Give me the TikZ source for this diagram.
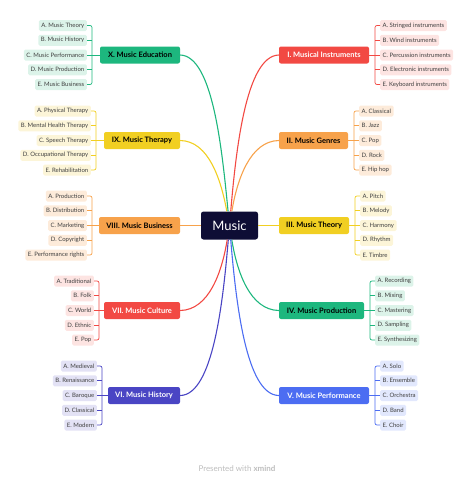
\documentclass[tikz,border=0pt]{standalone}
\usepackage{fontspec}
\setmainfont{Lato}
\usepackage{tikz}

\definecolor{cnavy}{HTML}{0E0D35}
\definecolor{cred}{HTML}{F24943}
\definecolor{corange}{HTML}{F7A24B}
\definecolor{cyellow}{HTML}{F1CF22}
\definecolor{cgreen}{HTML}{1DB77E}
\definecolor{cblue}{HTML}{4C6DF2}
\definecolor{cindigo}{HTML}{4A45C4}
\definecolor{lred}{HTML}{FDE4E2}
\definecolor{lorange}{HTML}{FDEBDA}
\definecolor{lyellow}{HTML}{FCF5D8}
\definecolor{lgreen}{HTML}{DCF3E9}
\definecolor{lblue}{HTML}{E2E8FD}
\definecolor{lindigo}{HTML}{E3E2F5}
\definecolor{cleaf}{HTML}{404040}
\definecolor{cfoot}{HTML}{BDBDBD}

\tikzset{
  hub/.style={rectangle, rounded corners=2.5pt, fill=cnavy, text=white,
    minimum width=57pt, minimum height=28pt, font=\fontsize{13}{13}\selectfont},
  topic/.style={rectangle, rounded corners=2pt, fill=#1, minimum height=17pt,
    inner xsep=0pt, font=\fontsize{7.5}{7.5}\selectfont\bfseries},
  leaf/.style={rectangle, rounded corners=1.5pt, fill=#1, minimum height=11pt,
    inner xsep=2.5pt, inner ysep=0pt, text=cleaf, font=\fontsize{6}{6}\selectfont},
  branch/.style={draw=#1, line width=1.1pt},
  bracket/.style={draw=#1, line width=0.7pt, rounded corners=2pt},
}

\begin{document}
\begin{tikzpicture}[x=1pt, y=-1pt]
\useasboundingbox (0,0) rectangle (474,480);

\node (music) at (229.5,225.5) [hub] {Music};

% right side
\node (inst) at (324,55) [topic=cred, minimum width=90pt, text=white] {I. Musical Instruments};
\node (genre) at (313.5,140.5) [topic=corange, minimum width=69pt] {II. Music Genres};
\node (theory) at (314,225.5) [topic=cyellow, minimum width=70pt] {III. Music Theory};
\node (prod) at (321.5,310.5) [topic=cgreen, minimum width=85pt] {IV. Music Production};
\node (perf) at (324,395.5) [topic=cblue, minimum width=90pt, text=white] {V. Music Performance};

% left side
\node (hist) at (144,395.5) [topic=cindigo, minimum width=72pt, text=white] {VI. Music History};
\node (cult) at (142,310.5) [topic=cred, minimum width=76pt, text=white] {VII. Music Culture};
\node (bus) at (139.5,225.5) [topic=corange, minimum width=81pt] {VIII. Music Business};
\node (ther) at (142,140.5) [topic=cyellow, minimum width=76pt] {IX. Music Therapy};
\node (edu) at (140,55) [topic=cgreen, minimum width=80pt] {X. Music Education};

\draw[branch=cred] (music) .. controls (236,150) and (246,56) .. (inst.west);
\draw[branch=corange] (music) .. controls (237,180) and (250,141) .. (genre.west);
\draw[branch=cyellow] (music) -- (theory);
\draw[branch=cgreen] (music) .. controls (237,272) and (250,310) .. (prod.west);
\draw[branch=cblue] (music) .. controls (236,302) and (246,395) .. (perf.west);
\draw[branch=cindigo] (music) .. controls (223,302) and (213,395) .. (hist.east);
\draw[branch=cred] (music) .. controls (222,272) and (209,310) .. (cult.east);
\draw[branch=corange] (music) -- (bus);
\draw[branch=cyellow] (music) .. controls (221,180) and (209,141) .. (ther.east);
\draw[branch=cgreen] (music) .. controls (222,150) and (213,56) .. (edu.east);

% I
\node (inst1) at (380,25.5) [leaf=lred, anchor=west] {A. Stringed instruments};
\node (inst2) at (380,40.25) [leaf=lred, anchor=west] {B. Wind instruments};
\node (inst3) at (380,55) [leaf=lred, anchor=west] {C. Percussion instruments};
\node (inst4) at (380,69.75) [leaf=lred, anchor=west] {D. Electronic instruments};
\node (inst5) at (380,84.5) [leaf=lred, anchor=west] {E. Keyboard instruments};
\draw[bracket=cred] (inst1.west) -- ++(-5,0) |- (inst5.west);
\draw[bracket=cred] (inst2.west) -- ++(-5,0);
\draw[bracket=cred] (inst4.west) -- ++(-5,0);
\draw[bracket=cred] (inst) -- (inst3);

% II
\node (genre1) at (359,111) [leaf=lorange, anchor=west] {A. Classical};
\node (genre2) at (359,125.75) [leaf=lorange, anchor=west] {B. Jazz};
\node (genre3) at (359,140.5) [leaf=lorange, anchor=west] {C. Pop};
\node (genre4) at (359,155.25) [leaf=lorange, anchor=west] {D. Rock};
\node (genre5) at (359,170) [leaf=lorange, anchor=west] {E. Hip hop};
\draw[bracket=corange] (genre1.west) -- ++(-5,0) |- (genre5.west);
\draw[bracket=corange] (genre2.west) -- ++(-5,0);
\draw[bracket=corange] (genre4.west) -- ++(-5,0);
\draw[bracket=corange] (genre) -- (genre3);

% III
\node (theory1) at (360,196) [leaf=lyellow, anchor=west] {A. Pitch};
\node (theory2) at (360,210.75) [leaf=lyellow, anchor=west] {B. Melody};
\node (theory3) at (360,225.5) [leaf=lyellow, anchor=west] {C. Harmony};
\node (theory4) at (360,240.25) [leaf=lyellow, anchor=west] {D. Rhythm};
\node (theory5) at (360,255) [leaf=lyellow, anchor=west] {E. Timbre};
\draw[bracket=cyellow] (theory1.west) -- ++(-5,0) |- (theory5.west);
\draw[bracket=cyellow] (theory2.west) -- ++(-5,0);
\draw[bracket=cyellow] (theory4.west) -- ++(-5,0);
\draw[bracket=cyellow] (theory) -- (theory3);

% IV
\node (prod1) at (375,281) [leaf=lgreen, anchor=west] {A. Recording};
\node (prod2) at (375,295.75) [leaf=lgreen, anchor=west] {B. Mixing};
\node (prod3) at (375,310.5) [leaf=lgreen, anchor=west] {C. Mastering};
\node (prod4) at (375,325.25) [leaf=lgreen, anchor=west] {D. Sampling};
\node (prod5) at (375,340) [leaf=lgreen, anchor=west] {E. Synthesizing};
\draw[bracket=cgreen] (prod1.west) -- ++(-5,0) |- (prod5.west);
\draw[bracket=cgreen] (prod2.west) -- ++(-5,0);
\draw[bracket=cgreen] (prod4.west) -- ++(-5,0);
\draw[bracket=cgreen] (prod) -- (prod3);

% V
\node (perf1) at (380,366) [leaf=lblue, anchor=west] {A. Solo};
\node (perf2) at (380,380.75) [leaf=lblue, anchor=west] {B. Ensemble};
\node (perf3) at (380,395.5) [leaf=lblue, anchor=west] {C. Orchestra};
\node (perf4) at (380,410.25) [leaf=lblue, anchor=west] {D. Band};
\node (perf5) at (380,425) [leaf=lblue, anchor=west] {E. Choir};
\draw[bracket=cblue] (perf1.west) -- ++(-5,0) |- (perf5.west);
\draw[bracket=cblue] (perf2.west) -- ++(-5,0);
\draw[bracket=cblue] (perf4.west) -- ++(-5,0);
\draw[bracket=cblue] (perf) -- (perf3);

% VI
\node (hist1) at (97,366) [leaf=lindigo, anchor=east] {A. Medieval};
\node (hist2) at (97,380.75) [leaf=lindigo, anchor=east] {B. Renaissance};
\node (hist3) at (97,395.5) [leaf=lindigo, anchor=east] {C. Baroque};
\node (hist4) at (97,410.25) [leaf=lindigo, anchor=east] {D. Classical};
\node (hist5) at (97,425) [leaf=lindigo, anchor=east] {E. Modern};
\draw[bracket=cindigo] (hist1.east) -- ++(5,0) |- (hist5.east);
\draw[bracket=cindigo] (hist2.east) -- ++(5,0);
\draw[bracket=cindigo] (hist4.east) -- ++(5,0);
\draw[bracket=cindigo] (hist) -- (hist3);

% VII
\node (cult1) at (94,281) [leaf=lred, anchor=east] {A. Traditional};
\node (cult2) at (94,295.75) [leaf=lred, anchor=east] {B. Folk};
\node (cult3) at (94,310.5) [leaf=lred, anchor=east] {C. World};
\node (cult4) at (94,325.25) [leaf=lred, anchor=east] {D. Ethnic};
\node (cult5) at (94,340) [leaf=lred, anchor=east] {E. Pop};
\draw[bracket=cred] (cult1.east) -- ++(5,0) |- (cult5.east);
\draw[bracket=cred] (cult2.east) -- ++(5,0);
\draw[bracket=cred] (cult4.east) -- ++(5,0);
\draw[bracket=cred] (cult) -- (cult3);

% VIII
\node (bus1) at (87,196) [leaf=lorange, anchor=east] {A. Production};
\node (bus2) at (87,210.75) [leaf=lorange, anchor=east] {B. Distribution};
\node (bus3) at (87,225.5) [leaf=lorange, anchor=east] {C. Marketing};
\node (bus4) at (87,240.25) [leaf=lorange, anchor=east] {D. Copyright};
\node (bus5) at (87,255) [leaf=lorange, anchor=east] {E. Performance rights};
\draw[bracket=corange] (bus1.east) -- ++(5,0) |- (bus5.east);
\draw[bracket=corange] (bus2.east) -- ++(5,0);
\draw[bracket=corange] (bus4.east) -- ++(5,0);
\draw[bracket=corange] (bus) -- (bus3);

% IX
\node (ther1) at (91,111) [leaf=lyellow, anchor=east] {A. Physical Therapy};
\node (ther2) at (91,125.75) [leaf=lyellow, anchor=east] {B. Mental Health Therapy};
\node (ther3) at (91,140.5) [leaf=lyellow, anchor=east] {C. Speech Therapy};
\node (ther4) at (91,155.25) [leaf=lyellow, anchor=east] {D. Occupational Therapy};
\node (ther5) at (91,170) [leaf=lyellow, anchor=east] {E. Rehabilitation};
\draw[bracket=cyellow] (ther1.east) -- ++(5,0) |- (ther5.east);
\draw[bracket=cyellow] (ther2.east) -- ++(5,0);
\draw[bracket=cyellow] (ther4.east) -- ++(5,0);
\draw[bracket=cyellow] (ther) -- (ther3);

% X
\node (edu1) at (87,25.5) [leaf=lgreen, anchor=east] {A. Music Theory};
\node (edu2) at (87,40.25) [leaf=lgreen, anchor=east] {B. Music History};
\node (edu3) at (87,55) [leaf=lgreen, anchor=east] {C. Music Performance};
\node (edu4) at (87,69.75) [leaf=lgreen, anchor=east] {D. Music Production};
\node (edu5) at (87,84.5) [leaf=lgreen, anchor=east] {E. Music Business};
\draw[bracket=cgreen] (edu1.east) -- ++(5,0) |- (edu5.east);
\draw[bracket=cgreen] (edu2.east) -- ++(5,0);
\draw[bracket=cgreen] (edu4.east) -- ++(5,0);
\draw[bracket=cgreen] (edu) -- (edu3);

\node (foot) at (237,469) [text=cfoot, font=\fontsize{8}{8}\selectfont] {Presented with \textbf{xmind}};
\end{tikzpicture}
\end{document}
